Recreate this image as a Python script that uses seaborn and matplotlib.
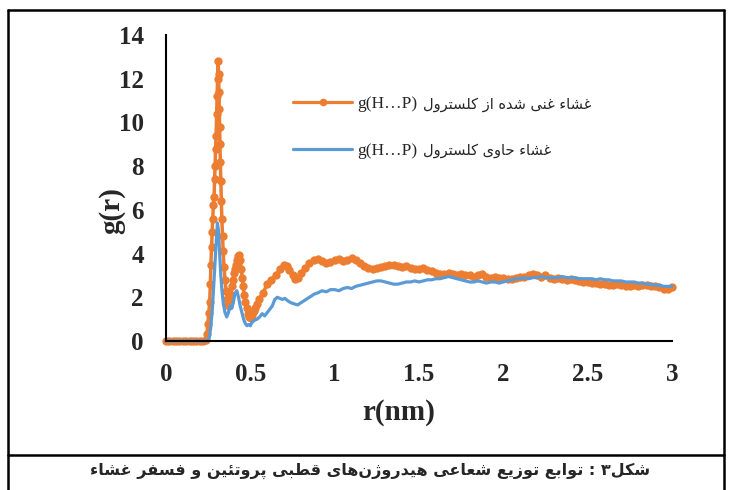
import numpy as np
import pandas as pd
import matplotlib.pyplot as plt
import seaborn as sns
from matplotlib.lines import Line2D

# g(H...P) for the cholesterol-rich membrane (orange, with markers)
r_rich = [0.000, 0.020, 0.040, 0.060, 0.080, 0.100, 0.120, 0.140, 0.160, 0.180, 0.200, 0.220,
          0.235, 0.242, 0.248, 0.254, 0.259, 0.263, 0.266, 0.270, 0.273, 0.277, 0.281, 0.285,
          0.288, 0.291, 0.294, 0.297, 0.300, 0.303, 0.306, 0.309, 0.312, 0.314, 0.316, 0.318,
          0.320, 0.322, 0.325, 0.328, 0.331, 0.335, 0.339, 0.344, 0.350, 0.356, 0.362, 0.368,
          0.374, 0.380, 0.386, 0.392, 0.398, 0.404, 0.410, 0.416, 0.422, 0.428, 0.434, 0.440,
          0.446, 0.452, 0.458, 0.464, 0.470, 0.478, 0.486, 0.494, 0.502, 0.510, 0.520, 0.530,
          0.540, 0.550, 0.575, 0.600, 0.625, 0.650, 0.675, 0.700, 0.715, 0.730, 0.750, 0.765,
          0.780, 0.800, 0.825, 0.850, 0.875, 0.900, 0.925, 0.950, 0.975, 1.000, 1.025, 1.050,
          1.075, 1.100, 1.125, 1.150, 1.175, 1.200, 1.225, 1.250, 1.275, 1.300, 1.325, 1.350,
          1.375, 1.400, 1.425, 1.450, 1.475, 1.500, 1.525, 1.550, 1.575, 1.600, 1.625, 1.650,
          1.675, 1.700, 1.725, 1.750, 1.775, 1.800, 1.825, 1.850, 1.875, 1.900, 1.925, 1.950,
          1.975, 2.000, 2.025, 2.050, 2.075, 2.100, 2.125, 2.150, 2.175, 2.200, 2.225, 2.250,
          2.275, 2.300, 2.325, 2.350, 2.375, 2.400, 2.425, 2.450, 2.475, 2.500, 2.525, 2.550,
          2.575, 2.600, 2.625, 2.650, 2.675, 2.700, 2.725, 2.750, 2.775, 2.800, 2.825, 2.850,
          2.875, 2.900, 2.925, 2.950, 2.975, 3.000]
g_rich = [0, 0, 0, 0, 0, 0, 0, 0, 0, 0, 0, 0,
          0.05, 0.3, 0.8, 1.3, 1.8, 2.6, 3.5, 4.3, 5.0, 5.6, 6.2, 6.6,
          7.4, 8.0, 8.8, 9.4, 10.4, 11.2, 12.0, 12.8, 12.2, 11.4, 10.6, 9.8,
          9.0, 8.2, 7.3, 6.4, 5.6, 4.8, 4.1, 3.4, 2.8, 2.3, 1.9, 1.7,
          1.6, 1.8, 2.1, 2.5, 2.8, 3.1, 3.3, 3.5, 3.7, 3.9, 3.95, 3.7,
          3.3, 2.9, 2.5, 2.1, 1.8, 1.5, 1.25, 1.1, 1.05, 1.2, 1.35, 1.5,
          1.7, 1.9, 2.2, 2.6, 2.8, 3.0, 3.3, 3.5, 3.45, 3.25, 3.0, 2.85,
          2.9, 3.1, 3.35, 3.55, 3.7, 3.75, 3.65, 3.55, 3.6, 3.7, 3.75, 3.65,
          3.7, 3.8, 3.7, 3.55, 3.45, 3.35, 3.3, 3.35, 3.4, 3.45, 3.5, 3.5,
          3.45, 3.4, 3.45, 3.35, 3.3, 3.3, 3.35, 3.25, 3.2, 3.1, 3.05, 3.05,
          3.1, 3.05, 3.0, 3.05, 3.0, 3.0, 2.95, 3.0, 3.05, 2.95, 2.9, 2.95,
          2.9, 2.9, 2.85, 2.85, 2.9, 2.95, 2.95, 3.0, 3.05, 3.0, 2.95, 3.0,
          2.9, 2.85, 2.9, 2.85, 2.8, 2.85, 2.8, 2.75, 2.7, 2.7, 2.65, 2.65,
          2.6, 2.6, 2.55, 2.55, 2.6, 2.55, 2.5, 2.5, 2.55, 2.5, 2.55, 2.55,
          2.5, 2.5, 2.45, 2.4, 2.4, 2.45]

# g(H...P) for the cholesterol-containing membrane (blue)
r_cont = [0.000, 0.050, 0.100, 0.150, 0.200, 0.240, 0.255, 0.265, 0.275, 0.285, 0.295, 0.305,
          0.312, 0.318, 0.325, 0.333, 0.340, 0.350, 0.360, 0.370, 0.380, 0.390, 0.400, 0.410,
          0.420, 0.430, 0.440, 0.450, 0.460, 0.470, 0.480, 0.490, 0.500, 0.510, 0.525, 0.540,
          0.555, 0.570, 0.585, 0.600, 0.615, 0.630, 0.645, 0.660, 0.675, 0.690, 0.705, 0.720,
          0.740, 0.760, 0.780, 0.800, 0.820, 0.840, 0.860, 0.880, 0.900, 0.925, 0.950, 0.975,
          1.000, 1.025, 1.050, 1.075, 1.100, 1.125, 1.150, 1.175, 1.200, 1.225, 1.250, 1.275,
          1.300, 1.325, 1.350, 1.375, 1.400, 1.425, 1.450, 1.475, 1.500, 1.525, 1.550, 1.575,
          1.600, 1.625, 1.650, 1.675, 1.700, 1.725, 1.750, 1.775, 1.800, 1.825, 1.850, 1.875,
          1.900, 1.925, 1.950, 1.975, 2.000, 2.025, 2.050, 2.075, 2.100, 2.125, 2.150, 2.175,
          2.200, 2.225, 2.250, 2.275, 2.300, 2.325, 2.350, 2.375, 2.400, 2.425, 2.450, 2.475,
          2.500, 2.525, 2.550, 2.575, 2.600, 2.625, 2.650, 2.675, 2.700, 2.725, 2.750, 2.775,
          2.800, 2.825, 2.850, 2.875, 2.900, 2.925, 2.950, 2.975, 3.000]
g_cont = [0, 0, 0, 0, 0, 0, 0.1, 0.6, 1.5, 2.8, 4.2, 5.4,
          5.0, 4.0, 3.0, 2.2, 1.7, 1.3, 1.1, 1.3, 1.6, 1.5, 1.8, 2.2,
          2.3, 2.0, 1.6, 1.3, 1.0, 0.8, 0.7, 0.75, 0.7, 0.85, 0.95, 1.0,
          1.1, 1.25, 1.15, 1.3, 1.45, 1.6, 1.9, 2.0, 1.95, 1.9, 1.95, 1.85,
          1.75, 1.7, 1.65, 1.75, 1.85, 1.95, 2.05, 2.15, 2.2, 2.3, 2.25, 2.35,
          2.35, 2.3, 2.4, 2.45, 2.4, 2.5, 2.55, 2.6, 2.65, 2.7, 2.75, 2.75,
          2.7, 2.65, 2.6, 2.6, 2.65, 2.7, 2.7, 2.75, 2.7, 2.75, 2.8, 2.8,
          2.85, 2.85, 2.9, 2.95, 2.9, 2.85, 2.8, 2.75, 2.7, 2.7, 2.75, 2.7,
          2.65, 2.7, 2.7, 2.65, 2.7, 2.75, 2.8, 2.85, 2.85, 2.9, 2.85, 2.9,
          2.9, 2.95, 2.9, 2.9, 2.9, 2.9, 2.95, 2.9, 2.9, 2.9, 2.85, 2.85,
          2.85, 2.85, 2.8, 2.85, 2.8, 2.8, 2.75, 2.75, 2.75, 2.7, 2.7, 2.7,
          2.65, 2.65, 2.6, 2.6, 2.55, 2.55, 2.5, 2.5, 2.5]

x_ticks = [0, 0.5, 1, 1.5, 2, 2.5, 3]
x_tick_labels = ['0', '0.5', '1', '1.5', '2', '2.5', '3']
y_ticks = [0, 2, 4, 6, 8, 10, 12, 14]

series_tag = 'g(H…P)'
label_rich = 'غشاء غنی شده از کلسترول'
label_cont = 'غشاء حاوی کلسترول'
caption = 'شکل۳ : توابع توزیع شعاعی هیدروژن\u200cهای قطبی پروتئین و فسفر غشاء'

ORANGE = '#ED7D31'
BLUE = '#5B9BD5'

# matplotlib does no arabic shaping, so pick the presentation forms by hand
# (isolated, final, initial, medial)
FORMS = {
    'ا': ('\uFE8D', '\uFE8E', None, None),
    'ء': ('\uFE80', None, None, None),
    'ب': ('\uFE8F', '\uFE90', '\uFE91', '\uFE92'),
    'پ': ('\uFB56', '\uFB57', '\uFB58', '\uFB59'),
    'ت': ('\uFE95', '\uFE96', '\uFE97', '\uFE98'),
    'ح': ('\uFEA1', '\uFEA2', '\uFEA3', '\uFEA4'),
    'د': ('\uFEA9', '\uFEAA', None, None),
    'ر': ('\uFEAD', '\uFEAE', None, None),
    'ز': ('\uFEAF', '\uFEB0', None, None),
    'ژ': ('\uFB8A', '\uFB8B', None, None),
    'س': ('\uFEB1', '\uFEB2', '\uFEB3', '\uFEB4'),
    'ش': ('\uFEB5', '\uFEB6', '\uFEB7', '\uFEB8'),
    'ط': ('\uFEC1', '\uFEC2', '\uFEC3', '\uFEC4'),
    'ع': ('\uFEC9', '\uFECA', '\uFECB', '\uFECC'),
    'غ': ('\uFECD', '\uFECE', '\uFECF', '\uFED0'),
    'ف': ('\uFED1', '\uFED2', '\uFED3', '\uFED4'),
    'ق': ('\uFED5', '\uFED6', '\uFED7', '\uFED8'),
    'ک': ('\uFB8E', '\uFB8F', '\uFB90', '\uFB91'),
    'ل': ('\uFEDD', '\uFEDE', '\uFEDF', '\uFEE0'),
    'م': ('\uFEE1', '\uFEE2', '\uFEE3', '\uFEE4'),
    'ن': ('\uFEE5', '\uFEE6', '\uFEE7', '\uFEE8'),
    'ه': ('\uFEE9', '\uFEEA', '\uFEEB', '\uFEEC'),
    'و': ('\uFEED', '\uFEEE', None, None),
    'ی': ('\uFBFC', '\uFBFD', '\uFBFE', '\uFBFF'),
    'ئ': ('\uFE89', '\uFE8A', '\uFE8B', '\uFE8C'),
}


def shape(s):
    out = []
    for i, c in enumerate(s):
        if c == '\u200c':
            continue
        if c not in FORMS:
            out.append(c)
            continue
        prev = s[i - 1] if i > 0 else ''
        nxt = s[i + 1] if i + 1 < len(s) else ''
        p = prev in FORMS and FORMS[prev][2] is not None
        n = FORMS[c][2] is not None and nxt in FORMS
        f = FORMS[c]
        if p and n:
            out.append(f[3])
        elif p:
            out.append(f[1] or f[0])
        elif n:
            out.append(f[2])
        else:
            out.append(f[0])
    return ''.join(out[::-1])


sns.set_theme(style='white')
plt.rcParams['font.family'] = ['Liberation Serif', 'DejaVu Sans']

W, H = 739, 490
fig = plt.figure(figsize=(7.39, 4.90), dpi=100)
ax = fig.add_axes([166 / W, 1 - 341 / H, (672 - 166) / W, (341 - 35) / H])

df_rich = pd.DataFrame({'r': r_rich, 'g': g_rich})
df_cont = pd.DataFrame({'r': r_cont, 'g': g_cont})

sns.lineplot(data=df_rich, x='r', y='g', ax=ax, color=ORANGE, lw=2.5, marker='o',
             markersize=6, markeredgewidth=0, clip_on=False, legend=False)
sns.lineplot(data=df_cont, x='r', y='g', ax=ax, color=BLUE, lw=2.3,
             clip_on=False, legend=False)

ax.set_xlim(0, 3)
ax.set_ylim(0, 14)
ax.set_xticks(x_ticks)
ax.set_xticklabels(x_tick_labels)
ax.set_yticks(y_ticks)
ax.tick_params(axis='both', length=0, labelsize=18)
ax.tick_params(axis='x', pad=16)
ax.tick_params(axis='y', pad=16)
for t in ax.get_xticklabels() + ax.get_yticklabels():
    t.set_fontweight('bold')
    t.set_family('Liberation Serif')

ax.set_xlabel('r(nm)', fontsize=21, fontweight='bold', family='Liberation Serif')
ax.set_ylabel('g(r)', fontsize=21, fontweight='bold', family='Liberation Serif')
ax.xaxis.set_label_coords((399 - 166) / 506, -(412 - 341) / 306)
ax.yaxis.set_label_coords(-(166 - 112) / 506, (341 - 211) / 306)
ax.xaxis.label.set_va('center')
ax.yaxis.label.set_va('center')

sns.despine(ax=ax)
for side in ['left', 'bottom']:
    ax.spines[side].set_color('black')
    ax.spines[side].set_linewidth(1.5)

handles = [Line2D([], [], color=ORANGE, lw=2.3, marker='o', markersize=5.5, markeredgewidth=0),
           Line2D([], [], color=BLUE, lw=2.3)]
leg = ax.legend(handles, [series_tag, series_tag], loc='upper left',
                bbox_to_anchor=((293 - 166) / 506, (341 - 96) / 306), frameon=False,
                prop={'family': 'Liberation Serif', 'size': 12.5},
                handlelength=3.4, handletextpad=0.3, labelspacing=1.75,
                borderpad=0, borderaxespad=0)

# persian part of each legend entry, placed right after the latin tag
fig.canvas.draw()
inv = fig.transFigure.inverted()
for txt, lab in zip(leg.get_texts(), [label_rich, label_cont]):
    bb = txt.get_window_extent()
    x0, y0 = inv.transform((bb.x1 + 6, (bb.y0 + bb.y1) / 2))
    fig.text(x0, y0, shape(lab), ha='left', va='center', fontsize=10.5, family='DejaVu Sans')

# outer frame and caption box
frame = dict(color='black', lw=1.8)
fig.add_artist(Line2D([8 / W, 8 / W], [0, 1 - 10 / H], **frame))
fig.add_artist(Line2D([724 / W, 724 / W], [0, 1 - 10 / H], **frame))
fig.add_artist(Line2D([8 / W, 724 / W], [1 - 10 / H, 1 - 10 / H], **frame))
fig.add_artist(Line2D([8 / W, 724 / W], [1 - 455 / H, 1 - 455 / H], **frame))

fig.text(370 / W, 1 - 471 / H, shape(caption), ha='center', va='center',
         fontsize=11.5, fontweight='bold', family='DejaVu Sans')

fig.savefig('out.png', dpi=100)
